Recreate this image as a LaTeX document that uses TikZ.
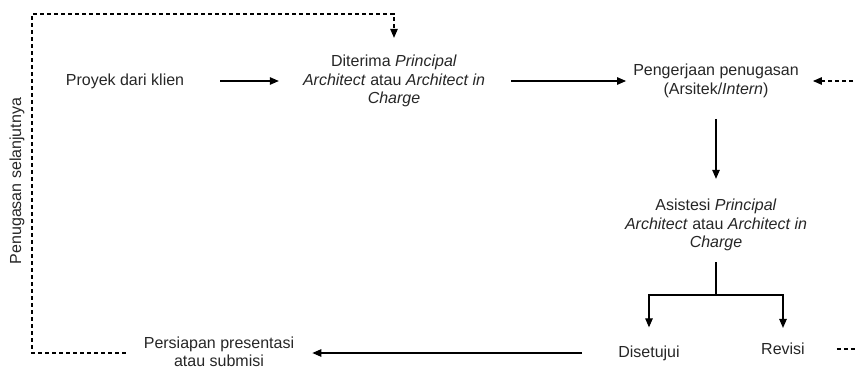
\documentclass[tikz,border=0pt]{standalone}
\usepackage{fontspec}
\setmainfont{Liberation Sans}
\usetikzlibrary{arrows.meta,positioning,calc}
\usepackage{xcolor}
\definecolor{dark}{HTML}{262626}
\tikzset{
  step box/.style={align=center, inner sep=0pt, text=dark, font=\fontsize{16}{18.5}\selectfont},
  arrow/.style={-{Triangle[length=9pt, width=7.5pt]}, line width=1.2pt, draw=black},
  dasharrow/.style={arrow, dash pattern=on 4pt off 3pt},
  dashline/.style={line width=1.2pt, draw=black, dash pattern=on 4pt off 3pt}
}

\begin{document}
\begin{tikzpicture}[x=1pt, y=-1pt]
  \useasboundingbox (0,0) rectangle (856,369);
  \node[step box] (proyek) at (125,81) {Proyek dari klien};
  \node[step box] (terima) at (394,81) {Diterima \textit{Principal}\\\textit{Architect} atau \textit{Architect in}\\\textit{Charge}};
  \node[step box] (kerja) at (716,81) {Pengerjaan penugasan\\(Arsitek/\textit{Intern})};
  \node[step box] (asis) at (716,225) {Asistesi \textit{Principal}\\\textit{Architect} atau \textit{Architect in}\\\textit{Charge}};
  \node[step box] (setuju) at (649,353) {Disetujui};
  \node[step box] (revisi) at (783,349) {Revisi};
  \node[step box] (siap) at (219,352) {Persiapan presentasi\\atau submisi};
  \node[step box, rotate=90] (lanjut) at (17,181) {Penugasan selanjutnya};
  \coordinate (fork) at (716,295);
  \coordinate (loopbl) at (32,353);
  \coordinate (looptl) at (32,14);
  \coordinate (loopr) at (872,349);
  % main flow
  \draw[arrow, shorten <=36pt, shorten >=24pt] (proyek.east) -- (terima.west);
  \draw[arrow, shorten <=26pt, shorten >=7pt] (terima.east) -- (kerja.west);
  \draw[arrow, shorten <=21pt, shorten >=20pt] (kerja.south) -- (asis.north);
  \draw[line width=1.2pt, shorten <=11pt] (asis.south) -- (fork);
  \draw[arrow, shorten >=18pt] (fork) -| (setuju.north);
  \draw[arrow, shorten >=15pt] (fork) -| (revisi.north);
  \draw[arrow, shorten <=36pt, shorten >=18pt] (setuju.west) -- (siap.east |- setuju.west);
  % loops
  \draw[dasharrow, shorten <=18pt, shorten >=17pt] (siap.west |- loopbl) -- (loopbl) -- (looptl) -| (terima.north);
  \draw[dasharrow, shorten <=32pt, shorten >=14pt] (revisi.east) -- (loopr) |- (kerja.east);
\end{tikzpicture}
\end{document}
